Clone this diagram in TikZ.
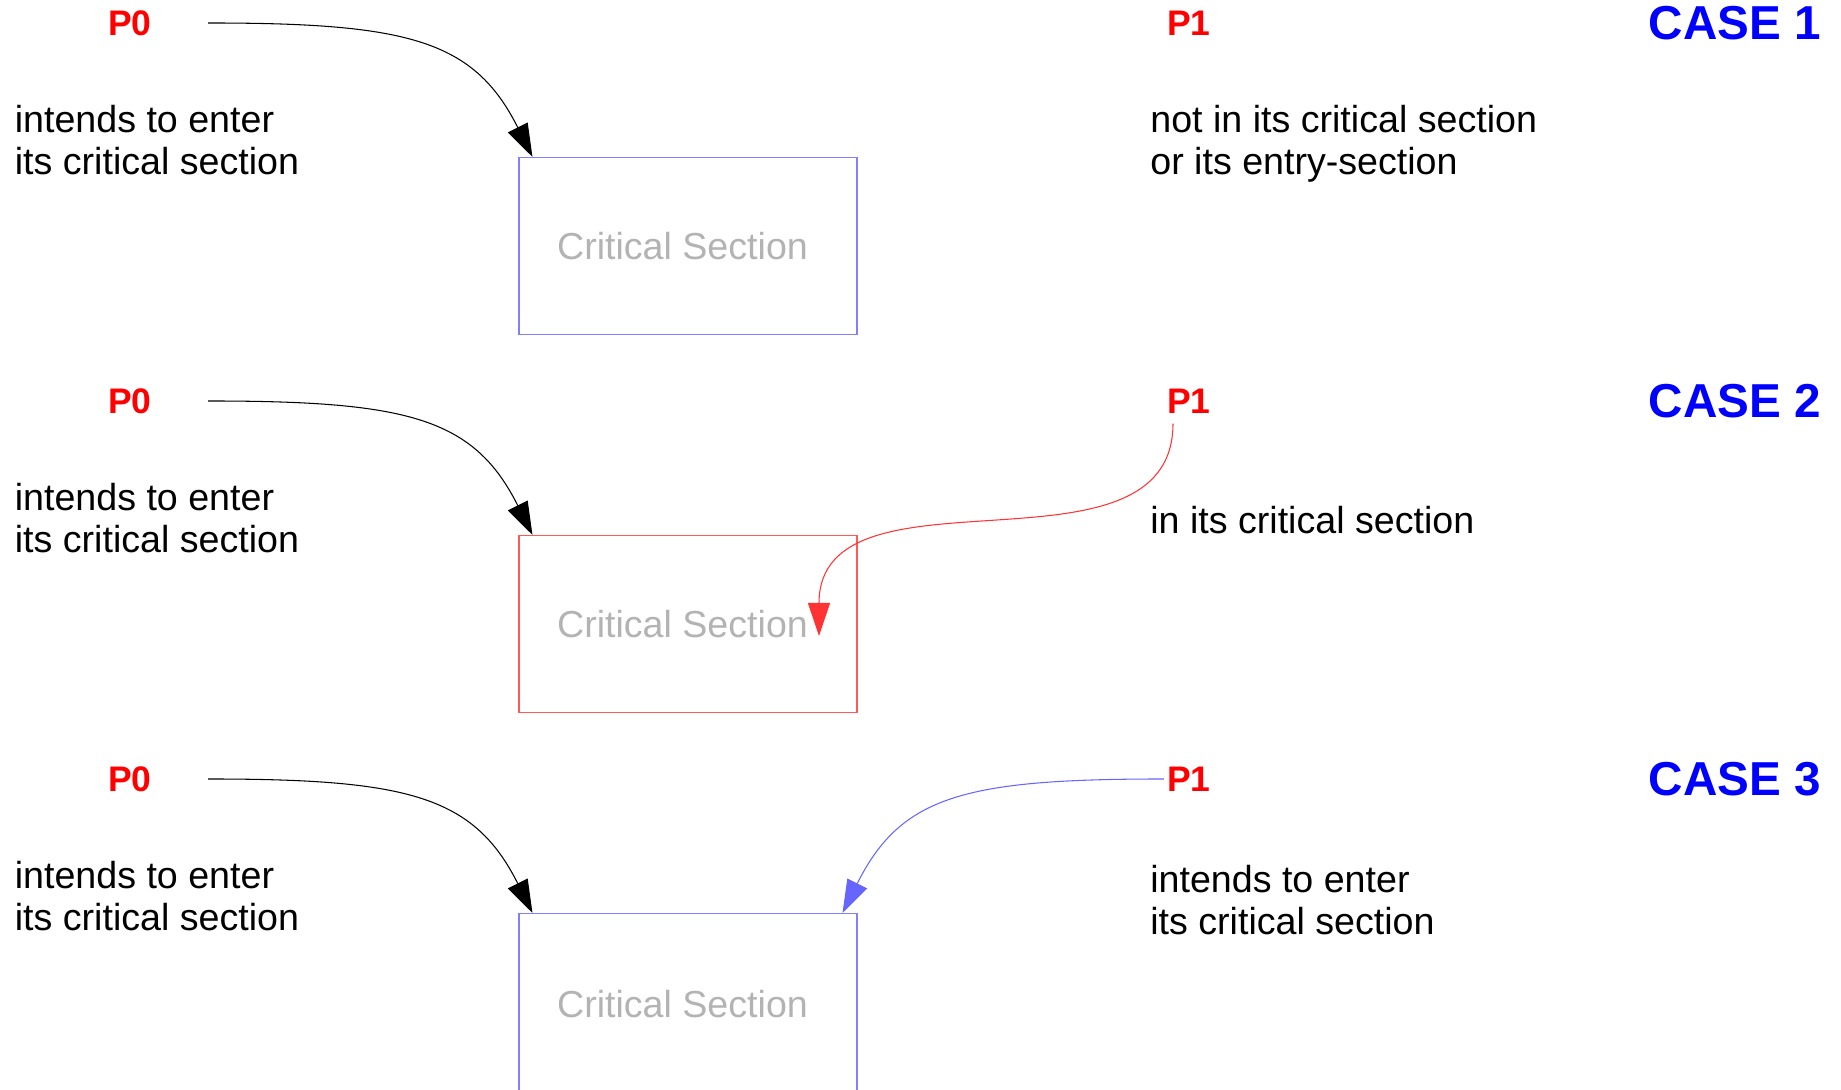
\documentclass[tikz,border=0pt]{standalone}
\usepackage{fontspec}
\setmainfont{Liberation Sans}
\usepackage{tikz}
\usetikzlibrary{arrows.meta,positioning}
\definecolor{ProcRed}{RGB}{255,0,0}
\definecolor{CaseBlue}{RGB}{0,0,255}
\definecolor{SecBlue}{RGB}{128,128,255}
\definecolor{SecRed}{RGB}{255,90,90}
\definecolor{FlowRed}{RGB}{255,51,51}
\definecolor{FlowBlue}{RGB}{102,102,255}
\definecolor{SecGray}{RGB}{179,179,179}

\begin{document}
\begin{tikzpicture}[
  proc/.style={text=ProcRed,font=\fontsize{20.2pt}{24pt}\selectfont\bfseries,inner sep=0pt},
  casetag/.style={text=CaseBlue,font=\fontsize{27.1pt}{32pt}\selectfont\bfseries,
                  inner sep=0pt,anchor=east},
  note/.style={align=left,anchor=north west,inner sep=0pt,
               font=\fontsize{21.4pt}{24pt}\selectfont},
  csbox/.style={draw=SecBlue,line width=0.6pt,minimum width=6.76cm,minimum height=3.54cm,
                text=SecGray,font=\fontsize{21.4pt}{24pt}\selectfont},
  flow/.style={line width=0.6pt,-{Triangle[length=0.66cm,width=0.44cm]}},
]
\useasboundingbox (0,0) rectangle (36.82,21.8);

% case 1
\node[proc] (p0a) at (2.6,21.34) {P0};
\node[proc] (p1a) at (23.78,21.34) {P1};
\node[casetag] (case1) at (36.42,21.34) {CASE 1};
\node[note] (n0a) at (0.29,19.7) {intends to enter\\its critical section};
\node[note] (n1a) at (23.0,19.7) {not in its critical section\\or its entry-section};
\node[csbox] (cs1) at (13.76,16.88) {Critical Section\hspace*{0.22cm}};
\draw[flow] ([xshift=1.12cm]p0a.east) .. controls +(4,0) and +(-1.17,2.34) .. ([xshift=0.28cm]cs1.north west);

% case 2
\node[proc] (p0b) at (2.6,13.78) {P0};
\node[proc] (p1b) at (23.78,13.78) {P1};
\node[casetag] (case2) at (36.42,13.78) {CASE 2};
\node[note] (n0b) at (0.29,12.14) {intends to enter\\its critical section};
\node[note] (n1b) at (23.0,11.68) {in its critical section};
\node[csbox,draw=SecRed] (cs2) at (13.76,9.32) {Critical Section\hspace*{0.22cm}};
\draw[flow] ([xshift=1.12cm]p0b.east) .. controls +(4,0) and +(-1.17,2.34) .. ([xshift=0.28cm]cs2.north west);
\draw[flow,draw=FlowRed] ([shift={(-0.32,-0.2)}]p1b.south) .. controls +(0,-3.3) and +(0,3.6) .. ([shift={(2.62,-0.24)}]cs2.center);

% case 3
\node[proc] (p0c) at (2.6,6.22) {P0};
\node[proc] (p1c) at (23.78,6.22) {P1};
\node[casetag] (case3) at (36.42,6.22) {CASE 3};
\node[note] (n0c) at (0.29,4.58) {intends to enter\\its critical section};
\node[note] (n1c) at (23.0,4.5) {intends to enter\\its critical section};
\node[csbox,minimum height=3.64cm] (cs3) at (13.76,1.71) {Critical Section\hspace*{0.22cm}};
\draw[flow] ([xshift=1.12cm]p0c.east) .. controls +(4,0) and +(-1.17,2.34) .. ([xshift=0.28cm]cs3.north west);
\draw[flow,draw=FlowBlue] ([xshift=-0.06cm]p1c.west) .. controls +(-4,0) and +(1.17,2.34) .. ([xshift=-0.3cm]cs3.north east);
\end{tikzpicture}
\end{document}
